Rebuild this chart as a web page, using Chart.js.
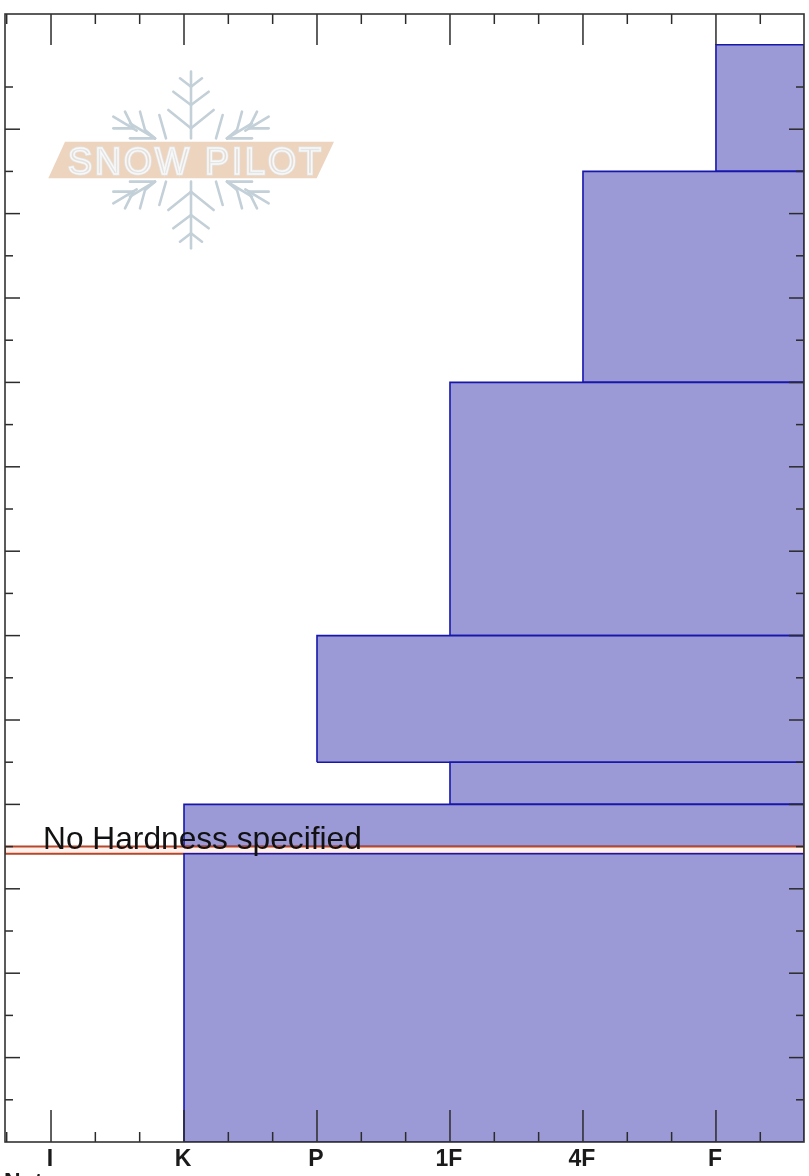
<!DOCTYPE html>
<html><head><meta charset="utf-8">
<style>html,body{margin:0;padding:0;background:#fff}canvas{display:block}</style>
<script src="https://cdn.jsdelivr.net/npm/chart.js@4"></script></head>
<body><canvas id="c" width="809" height="1176"></canvas>
<script>
const hardnessLabels = ['I','K','P','1F','4F','F'];
const hardnessValues = [1,2,3,4,5,6];
const layerTop = [26,23,18,12,9,8];
const layerBottom = [23,18,12,9,8,7];
const layerHardness = [6,5,4,3,4,2];
const lowerTop = 6.83, lowerBottom = 0, lowerHardness = 2;
const noHardnessTop = 7, noHardnessBottom = 6.83;
const noHardnessText = 'No Hardness specified';
const footText = 'Not';
const xMin = 0.654, xMax = 6.662, yMin = 0, yMax = 26.73;
const xMajor = [1,2,3,4,5,6];
const xMinor = [2/3,4/3,5/3,7/3,8/3,10/3,11/3,13/3,14/3,16/3,17/3,19/3];
const yMajor = [2,4,6,8,10,12,14,16,18,20,22,24];
const yMinor = [1,3,5,7,9,11,13,15,17,19,21,23,25];

const BAR='#9b99d6', EDGE='#1717ac', INK='#2b2b2b', RED='#b5472a', BAND='rgba(255,240,235,1)';
function rect(top,bottom,h){return [{x:h,y:bottom},{x:h,y:top},{x:xMax,y:top},{x:xMax,y:bottom},{x:h,y:bottom}];}
function poly(label,data,line,fill,w){return {label,data,showLine:true,fill:'shape',backgroundColor:fill,borderColor:line,borderWidth:w||1.6,pointRadius:0,tension:0};}

const datasets=[poly('Layer 7',rect(lowerTop,lowerBottom,lowerHardness),EDGE,BAR),
  poly('No hardness',rect(noHardnessTop,noHardnessBottom,xMin),RED,BAND,2)];
for(let i=layerTop.length-1;i>=0;i--) datasets.push(poly('Layer '+(i+1),rect(layerTop[i],layerBottom[i],layerHardness[i]),EDGE,BAR));

function logo(ctx){
  const Z=(x,y)=>[30+x/3,60+y/3];
  ctx.save();
  ctx.lineCap='round';
  ctx.strokeStyle='#c3d0d8';ctx.lineWidth=2.6;
  const seg=(a,mx,my)=>{const f=p=>Z(mx?966-p[0]:p[0],my?600-p[1]:p[1]);ctx.beginPath();let s=f([a[0],a[1]]),e=f([a[2],a[3]]);ctx.moveTo(s[0],s[1]);ctx.lineTo(e[0],e[1]);ctx.stroke();};
  const vert=[[483,35,483,235],[483,80,450,55],[483,80,516,55],[483,135,430,95],[483,135,536,95],[483,205,415,150],[483,205,551,150]];
  const diag=[[375,235,300,190],[285,155,310,205],[250,170,320,212],[250,205,310,205],[330,155,345,210],[345,210,375,235],[300,235,375,235],[388,165,408,235]];
  for(const my of [false,true]){
    vert.forEach(a=>seg(a,false,my));
    for(const mx of [false,true]) diag.forEach(a=>seg(a,mx,my));
  }
  const P=[[105,245],[912,245],[860,355],[55,355]].map(p=>Z(p[0],p[1]));
  ctx.fillStyle='#ecd4bf';ctx.beginPath();P.forEach((p,i)=>i?ctx.lineTo(p[0],p[1]):ctx.moveTo(p[0],p[1]));ctx.closePath();ctx.fill();
  ctx.font='36px "Liberation Sans"';ctx.textBaseline='alphabetic';ctx.textAlign='left';
  ctx.letterSpacing='3px';
  ctx.lineJoin='miter';ctx.strokeStyle='#e4e5e6';ctx.lineWidth=2.8;
  ctx.strokeText('SNOW PILOT',68,174);
  ctx.strokeStyle='#f8f8f8';ctx.lineWidth=1.4;
  ctx.strokeText('SNOW PILOT',68,174);
  ctx.restore();
}

const overlay={id:'overlay',
 beforeDatasetsDraw(ch){logo(ch.ctx);},
 afterDatasetsDraw(ch){
  const {ctx,chartArea:a,scales:{x,y}}=ch;
  ctx.save();
  ctx.fillStyle='#111';ctx.font='31.7px "Liberation Sans"';ctx.textBaseline='alphabetic';
  ctx.fillText(noHardnessText,x.getPixelForValue(1)-8,y.getPixelForValue(noHardnessTop)+2);
  ctx.strokeStyle=INK;ctx.lineWidth=1.5;
  const L=(x1,y1,x2,y2)=>{ctx.beginPath();ctx.moveTo(x1,y1);ctx.lineTo(x2,y2);ctx.stroke();};
  xMajor.forEach(v=>{const p=x.getPixelForValue(v);L(p,a.bottom,p,a.bottom-32);L(p,a.top,p,a.top+31);});
  xMinor.forEach(v=>{const p=x.getPixelForValue(v);L(p,a.bottom,p,a.bottom-10);L(p,a.top,p,a.top+10);});
  yMajor.forEach(v=>{const p=y.getPixelForValue(v);L(a.left,p,a.left+15,p);L(a.right,p,a.right-15,p);});
  yMinor.forEach(v=>{const p=y.getPixelForValue(v);L(a.left,p,a.left+8,p);L(a.right,p,a.right-8,p);});
  ctx.lineWidth=1.6;ctx.strokeStyle='#333';ctx.strokeRect(a.left,a.top,a.right-a.left,a.bottom-a.top);
  ctx.fillStyle='#1a1a1a';ctx.font='bold 23px "Liberation Sans"';ctx.fillText(footText,4,1190);
  ctx.restore();
 }};

new Chart(document.getElementById('c'),{type:'scatter',data:{datasets},plugins:[overlay],options:{
  responsive:false,animation:false,devicePixelRatio:1,
  layout:{padding:{left:5,right:5,top:14,bottom:0}},
  plugins:{legend:{display:false},tooltip:{enabled:false}},
  scales:{
    x:{type:'linear',min:xMin,max:xMax,grid:{display:false,drawTicks:false},border:{display:false},
       afterBuildTicks(s){s.ticks=hardnessValues.map(value=>({value}));},
       afterFit(s){s.height=34;},
       ticks:{autoSkip:false,maxRotation:0,padding:4,labelOffset:-1,color:'#1a1a1a',font:{family:'"Liberation Sans"',size:23,weight:'bold'},
         callback(v){return hardnessLabels[hardnessValues.indexOf(v)]||'';}}},
    y:{type:'linear',min:yMin,max:yMax,grid:{display:false,drawTicks:false},border:{display:false},
       afterFit(s){s.width=0;},ticks:{display:false}}
  }}});
</script></body></html>
